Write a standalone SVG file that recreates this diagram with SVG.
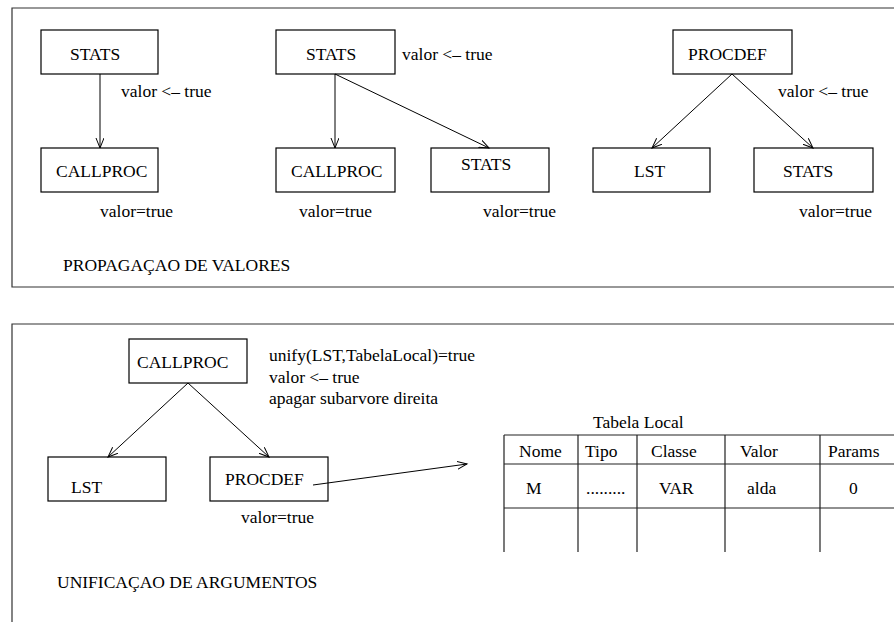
<svg xmlns="http://www.w3.org/2000/svg" width="894" height="622" viewBox="0 0 894 622">
<style>
text{font-family:"Liberation Serif","Times New Roman",serif;font-size:17.5px;fill:#000}
.box{fill:none;stroke:#000;stroke-width:1.2}
.frame{fill:none;stroke:#333;stroke-width:1.2}
.edge{fill:none;stroke:#000;stroke-width:1;marker-end:url(#arr)}
.grid{stroke:#222;stroke-width:1.2;fill:none}
</style>
<defs>
<marker id="arr" markerUnits="userSpaceOnUse" markerWidth="12" markerHeight="10" refX="10" refY="4" orient="auto">
<path d="M0,0 L10,4 L0,8" fill="none" stroke="#000" stroke-width="1"/>
</marker>
</defs>
<rect width="894" height="622" fill="#fff"/>
<path class="frame" d="M894 8 H12 V287 H894"/>
<path class="frame" d="M894 324 H12 V622"/>
<g id="connectors">
<line class="edge" x1="100" y1="74" x2="100" y2="148"/>
<line class="edge" x1="335" y1="74" x2="335" y2="148"/>
<line class="edge" x1="335" y1="74" x2="489" y2="148"/>
<line class="edge" x1="732" y1="74" x2="652" y2="148"/>
<line class="edge" x1="732" y1="74" x2="813" y2="148"/>
<line class="edge" x1="188" y1="383" x2="108" y2="457"/>
<line class="edge" x1="188" y1="383" x2="269" y2="457"/>
<line class="edge" x1="313" y1="485" x2="467" y2="464"/>
</g>
<g id="stats1"><rect class="box" x="41" y="30" width="117" height="44"/><text x="70" y="60">STATS</text></g>
<g id="callproc1"><rect class="box" x="41" y="148" width="117" height="44"/><text x="56" y="177">CALLPROC</text></g>
<text x="121" y="97">valor &lt;– true</text>
<text x="100" y="217">valor=true</text>
<text x="63" y="271">PROPAGAÇAO DE VALORES</text>
<g id="stats2"><rect class="box" x="276" y="30" width="119" height="44"/><text x="306" y="60">STATS</text></g>
<g id="callproc2"><rect class="box" x="276" y="148" width="119" height="44"/><text x="291" y="177">CALLPROC</text></g>
<g id="stats3"><rect class="box" x="431" y="148" width="118" height="44"/><text x="461" y="170">STATS</text></g>
<text x="402" y="60">valor &lt;– true</text>
<text x="299" y="217">valor=true</text>
<text x="483" y="217">valor=true</text>
<g id="procdef1"><rect class="box" x="673" y="30" width="119" height="44"/><text x="688" y="60">PROCDEF</text></g>
<g id="lst1"><rect class="box" x="593" y="148" width="117" height="44"/><text x="634" y="177">LST</text></g>
<g id="stats4"><rect class="box" x="754" y="148" width="119" height="44"/><text x="783" y="177">STATS</text></g>
<text x="778" y="97">valor &lt;– true</text>
<text x="799" y="217">valor=true</text>
<g id="callproc3"><rect class="box" x="129" y="339" width="118" height="44"/><text x="137" y="368">CALLPROC</text></g>
<g id="lst2"><rect class="box" x="48" y="457" width="118" height="44"/><text x="71" y="493">LST</text></g>
<g id="procdef2"><rect class="box" x="210" y="457" width="118" height="44"/><text x="225" y="485">PROCDEF</text></g>
<text x="269" y="361">unify(LST,TabelaLocal)=true</text>
<text x="269" y="383">valor &lt;– true</text>
<text x="269" y="404">apagar subarvore direita</text>
<text x="241" y="523">valor=true</text>
<text x="57" y="588">UNIFICAÇAO DE ARGUMENTOS</text>
<g id="tabela">
<text x="593" y="428">Tabela Local</text>
<path class="grid" d="M504 435 H894 M504 464 H894 M504 508 H894 M504 435 V552 M578 435 V552 M637 435 V552 M725 435 V552 M820 435 V552"/>
<text x="519" y="457">Nome</text>
<text x="585" y="457">Tipo</text>
<text x="651" y="457">Classe</text>
<text x="740" y="457">Valor</text>
<text x="828" y="457">Params</text>
<text x="526" y="494">M</text>
<text x="586" y="494">.........</text>
<text x="659" y="494">VAR</text>
<text x="747" y="494">alda</text>
<text x="849" y="494">0</text>
</g>
</svg>
